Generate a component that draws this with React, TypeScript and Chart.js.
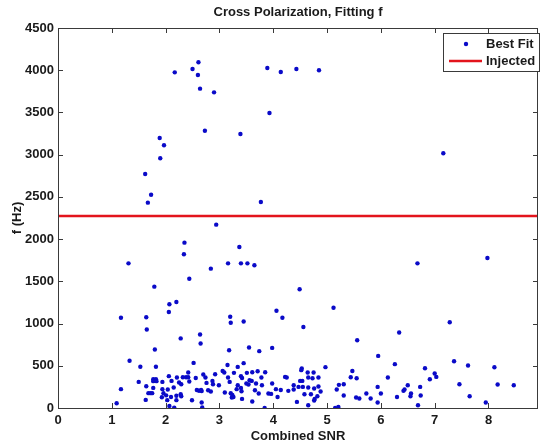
import { useEffect, useRef } from "react";
import { Chart, registerables } from "chart.js";

Chart.register(...registerables);

const chartTitle = "Cross Polarization, Fitting f";
const xAxisLabel = "Combined SNR";
const yAxisLabel = "f (Hz)";
const seriesLabels = ["Best Fit", "Injected"];

const xTickValues = [0, 1, 2, 3, 4, 5, 6, 7, 8];
const yTickValues = [0, 500, 1000, 1500, 2000, 2500, 3000, 3500, 4000, 4500];
const xRange = [0, 8.92];
const yRange = [0, 4500];

const injectedF = 2275;

const combinedSNR = [
  2.17, 2.5, 2.61, 2.6, 2.64, 2.9, 2.73, 3.39, 3.89, 4.14, 4.43, 3.93, 1.89, 1.97, 1.9, 1.62, 1.73, 1.67, 3.77, 4.85, 7.16,
  2.94, 2.35, 2.34, 3.37, 1.31, 3.16, 3.4, 3.52, 3.65, 2.84, 2.44, 1.79, 4.49, 2.2, 2.07, 2.06, 4.06, 1.17, 1.64, 3.2, 4.17, 5.12, 6.68, 7.98,
  1.65, 2.28, 1.8, 1.33, 1.53, 1.82, 1.5, 1.17, 1.09, 1.77, 1.82, 1.77, 1.83, 1.64, 1.77, 1.68, 1.72, 1.75, 1.63, 1.94, 1.94, 1.96, 1.93, 2.04, 2.06, 2.11, 2.15, 2.21, 2.25, 2.01, 2.1, 2.2, 2.03, 2.2, 2.07, 2.16, 2.29,
  2.64, 2.65, 3.21, 3.45, 3.18, 3.55, 3.74, 3.98, 2.52, 3.15, 3.34, 3.45, 4.53,
  2.32, 2.38, 2.42, 2.42, 2.56, 2.7, 2.74, 2.92, 3.06, 3.09, 3.16, 3.27, 3.4, 3.42, 3.51, 3.61, 3.71, 3.85, 3.56, 3.6, 3.78, 4.22, 4.25, 4.52,
  2.29, 2.44, 2.76, 2.87, 2.88, 2.99, 3.19, 3.34, 3.4, 3.5, 3.54, 3.68, 3.79, 3.98, 4.38, 4.47,
  2.58, 2.62, 2.66, 2.67, 2.79, 2.84, 3.1, 3.21, 3.24, 3.26, 3.23, 3.32, 3.41, 3.66, 3.73, 3.91, 3.96, 4.05, 4.14, 4.08, 4.28, 4.38, 4.44, 3.42, 3.61, 2.49, 2.67, 2.68, 2.28, 3.84,
  4.56, 5.56, 6.34, 5.95, 6.26, 4.97, 5.47, 6.13, 5.44, 5.55, 4.64, 4.75, 4.65, 4.73, 4.84, 4.5, 4.54, 4.55, 4.65, 4.76, 4.84, 4.88, 4.82, 4.77, 4.76, 4.7, 4.58, 4.65, 5.18, 5.22, 5.31, 5.31, 5.15, 5.21, 5.54, 5.6, 5.73, 5.81, 5.94, 6.0, 5.94, 6.3, 6.42, 6.44, 6.5, 6.56, 6.55, 6.69, 6.73,
  7.28, 7.36, 7.62, 8.11, 6.82, 7.0, 7.03, 6.91, 7.46, 8.17, 8.47, 6.74, 7.65, 7.95,
];

const fittedF = [
  3975, 4015, 4094, 3944, 3782, 3738, 3284, 3245, 4026, 3979, 4015, 3494, 3198, 3111, 2957, 2771, 2526, 2432, 2440, 3999, 3016,
  2171, 1958, 1820, 1907, 1713, 1713, 1713, 1713, 1690, 1650, 1531, 1437, 1406, 1255, 1228, 1137, 1152, 1069, 1074, 1081, 1069, 1188, 1713, 1776,
  930, 824, 693, 559, 488, 488, 309, 223, 57, 340, 340, 318, 318, 258, 238, 176, 176, 176, 96, 309, 223, 176, 128, 219, 377, 321, 243, 361, 302, 150, 130, 145, 93, 93, 25, 5, 140,
  870, 764, 1010, 1024, 684, 716, 673, 712, 534, 510, 487, 531, 468,
  365, 365, 420, 365, 356, 397, 361, 400, 439, 420, 361, 416, 377, 356, 416, 424, 436, 424, 329, 321, 361, 368, 361, 448,
  282, 314, 297, 321, 282, 270, 309, 270, 238, 290, 278, 290, 270, 290, 270, 250,
  213, 205, 213, 200, 211, 195, 184, 175, 155, 131, 124, 223, 199, 211, 172, 172, 167, 223, 214, 131, 203, 219, 72, 108, 77, 92, 65, 6, 163, 1,
  960, 803, 894, 617, 519, 484, 439, 361, 365, 353, 420, 420, 361, 353, 361, 321, 321, 250, 243, 231, 255, 195, 140, 108, 89, 163, 163, 33, 219, 274, 282, 148, 1, 13, 124, 112, 172, 112, 250, 172, 65, 131, 203, 219, 270, 172, 140, 33, 250,
  1016, 554, 503, 483, 471, 409, 368, 341, 282, 278, 270, 148, 140, 65,
];

const FONT_FAMILY = "'Liberation Sans', Arial, Helvetica, sans-serif";
const TEXT_COLOR = "#1a1a1a";
const FRAME_COLOR = "#3a3a3a";
const DOT_COLOR = "#0a0ac8";
const LINE_COLOR = "#e3141c";

const matlabPlugin = {
  id: "matlabFrame",
  afterDatasetsDraw(chart: any) {
    const { ctx, chartArea } = chart;
    const { left, right, top, bottom } = chartArea;
    const xs = chart.scales.x;
    const ys = chart.scales.y;
    const tl = 5;
    ctx.save();
    ctx.strokeStyle = FRAME_COLOR;
    ctx.lineWidth = 1;
    ctx.beginPath();
    ctx.rect(Math.round(left) + 0.5, Math.round(top) + 0.5, Math.round(right - left) - 1, Math.round(bottom - top));
    ctx.stroke();
    ctx.beginPath();
    xTickValues.forEach((v) => {
      const px = Math.round(xs.getPixelForValue(v)) + 0.5;
      ctx.moveTo(px, bottom);
      ctx.lineTo(px, bottom - tl);
      ctx.moveTo(px, top);
      ctx.lineTo(px, top + tl);
    });
    yTickValues.forEach((v) => {
      const py = Math.round(ys.getPixelForValue(v)) + 0.5;
      ctx.moveTo(left, py);
      ctx.lineTo(left + tl, py);
      ctx.moveTo(right, py);
      ctx.lineTo(right - tl, py);
    });
    ctx.stroke();
    ctx.restore();
  },
  afterDraw(chart: any) {
    const { ctx, chartArea } = chart;
    ctx.save();
    // title
    ctx.fillStyle = TEXT_COLOR;
    ctx.font = `bold 13px ${FONT_FAMILY}`;
    ctx.textAlign = "center";
    ctx.textBaseline = "middle";
    ctx.fillText(chartTitle, (chartArea.left + chartArea.right) / 2, 12);

    // legend
    const ds = chart.data.datasets;
    const bx = 443, by = 33, bw = 96, bh = 38;
    ctx.fillStyle = "#ffffff";
    ctx.fillRect(bx, by, bw, bh);
    ctx.strokeStyle = FRAME_COLOR;
    ctx.lineWidth = 1;
    ctx.strokeRect(bx + 0.5, by + 0.5, bw, bh);
    ctx.textAlign = "left";
    ctx.fillStyle = TEXT_COLOR;
    ctx.font = `bold 13px ${FONT_FAMILY}`;
    // entry 1: dot
    ctx.fillStyle = ds[0].backgroundColor;
    ctx.beginPath();
    ctx.arc(466, 44, 2.2, 0, Math.PI * 2);
    ctx.fill();
    ctx.fillStyle = TEXT_COLOR;
    ctx.fillText(ds[0].label, 486, 44);
    // entry 2: line
    ctx.strokeStyle = ds[1].borderColor;
    ctx.lineWidth = 2.5;
    ctx.beginPath();
    ctx.moveTo(449, 61);
    ctx.lineTo(482, 61);
    ctx.stroke();
    ctx.fillText(ds[1].label, 486, 61);
    ctx.restore();
  },
};

export default function App() {
  const canvasRef = useRef<HTMLCanvasElement | null>(null);

  useEffect(() => {
    const canvas = canvasRef.current;
    if (!canvas) return;
    const tickFont = { family: FONT_FAMILY, size: 13, weight: "bold" as const };
    const chart = new Chart(canvas, {
      type: "scatter",
      data: {
        datasets: [
          {
            type: "scatter",
            label: seriesLabels[0],
            data: combinedSNR.map((x, i) => ({ x, y: fittedF[i] })),
            backgroundColor: DOT_COLOR,
            borderWidth: 0,
            pointRadius: 2.2,
            order: 2,
          },
          {
            type: "line",
            label: seriesLabels[1],
            data: [
              { x: xRange[0], y: injectedF },
              { x: xRange[1], y: injectedF },
            ],
            borderColor: LINE_COLOR,
            backgroundColor: LINE_COLOR,
            borderWidth: 2.5,
            pointRadius: 0,
            fill: false,
            order: 1,
          } as any,
        ],
      },
      options: {
        animation: false,
        responsive: false,
        devicePixelRatio: 1,
        layout: { padding: { top: 28, right: 1, left: 0, bottom: 0 } },
        plugins: {
          legend: { display: false },
          title: { display: false },
          tooltip: { enabled: false },
        },
        scales: {
          x: {
            type: "linear",
            min: xRange[0],
            max: xRange[1],
            afterBuildTicks: (s: any) => {
              s.ticks = xTickValues.map((v) => ({ value: v }));
            },
            afterFit: (s: any) => {
              s.height = 38;
            },
            grid: { display: false, drawTicks: false },
            border: { display: false },
            ticks: {
              font: tickFont,
              color: TEXT_COLOR,
              padding: 5,
              maxRotation: 0,
              callback: (v: any) => String(v),
            },
            title: {
              display: true,
              text: xAxisLabel,
              font: tickFont,
              color: TEXT_COLOR,
              padding: { top: 0, bottom: 2 },
            },
          },
          y: {
            type: "linear",
            min: yRange[0],
            max: yRange[1],
            afterBuildTicks: (s: any) => {
              s.ticks = yTickValues.map((v) => ({ value: v }));
            },
            afterFit: (s: any) => {
              s.width = 58;
            },
            grid: { display: false, drawTicks: false },
            border: { display: false },
            ticks: {
              font: tickFont,
              color: TEXT_COLOR,
              padding: 4,
              callback: (v: any) => String(v),
            },
            title: {
              display: true,
              text: yAxisLabel,
              font: tickFont,
              color: TEXT_COLOR,
              padding: { top: 10, bottom: 0 },
            },
          },
        },
      },
      plugins: [matlabPlugin],
    });
    return () => chart.destroy();
  }, []);

  return (
    <div style={{ position: "fixed", left: 0, top: 0, width: 542, height: 446, background: "#ffffff" }}>
      <canvas ref={canvasRef} width={542} height={446} style={{ display: "block" }} />
    </div>
  );
}
